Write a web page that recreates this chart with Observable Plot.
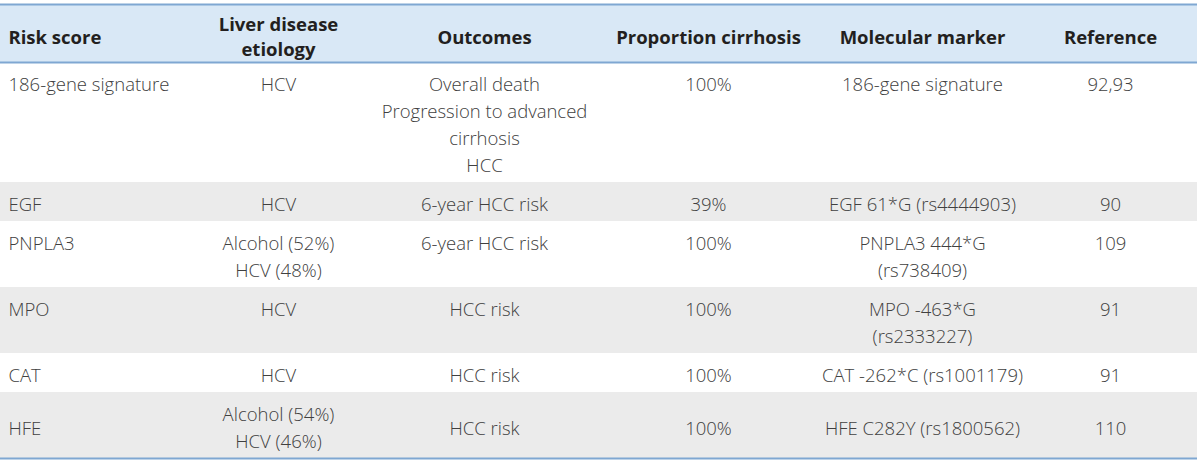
<!DOCTYPE html>
<html><head><meta charset="utf-8">
<script src="https://cdn.jsdelivr.net/npm/d3@7"></script>
<script src="https://cdn.jsdelivr.net/npm/@observablehq/plot@0.6"></script>
<style>html,body{margin:0;padding:0;background:#fff;} svg{display:block}</style>
</head><body><div id="chart"></div>
<script>
// ---- table content ----
const headers = [["Risk score"], ["Liver disease", "etiology"], ["Outcomes"], ["Proportion cirrhosis"], ["Molecular marker"], ["Reference"]];
const riskScores = ["186-gene signature", "EGF", "PNPLA3", "MPO", "CAT", "HFE"];
const etiology = [["HCV"], ["HCV"], ["Alcohol (52%)", "HCV (48%)"], ["HCV"], ["HCV"], ["Alcohol (54%)", "HCV (46%)"]];
const outcomes = [["Overall death", "Progression to advanced", "cirrhosis", "HCC"], ["6-year HCC risk"], ["6-year HCC risk"], ["HCC risk"], ["HCC risk"], ["HCC risk"]];
const proportionCirrhosis = ["100%", "39%", "100%", "100%", "100%", "100%"];
const molecularMarker = [["186-gene signature"], ["EGF 61*G (rs4444903)"], ["PNPLA3 444*G", "(rs738409)"], ["MPO -463*G", "(rs2333227)"], ["CAT -262*C (rs1001179)"], ["HFE C282Y (rs1800562)"]];
const references = ["92,93", "90", "109", "91", "91", "110"];

// ---- layout / style ----
const W = 1200, H = 462;
const L = {tableRight: 1197, headerTop: 4, headerBottom: 62, lineHeight: 27, rowPad: 6, textShift: 3.5, headerLineHeight: 25, headerShift: 4.5};
const colX = [8, 278, 484, 708, 922, 1110];
const colAnchor = ["start", "middle", "middle", "middle", "middle", "middle"];
const rowVAlign = ["top", "top", "top", "top", "top", "middle"];
const C = {header: "#d9e8f6", stripe: "#ebebeb", rule: "#7fa7d2", headText: "#231f20", bodyText: "#404040"};
const FONT = "'Open Sans', 'Noto Sans', sans-serif";

// ---- build records ----
const rows = riskScores.map((r, i) => [[r], etiology[i], outcomes[i], [proportionCirrhosis[i]], molecularMarker[i], [references[i]]]);
const rowRects = [];
const bodyLines = [];
let rowTop = L.headerBottom;
rows.forEach((cells, ri) => {
  const n = d3.max(cells, c => c.length);
  const h = 2 * L.rowPad + n * L.lineHeight;
  rowRects.push({y1: rowTop, y2: rowTop + h, fill: ri % 2 ? C.stripe : "#ffffff"});
  cells.forEach((lines, ci) => {
    lines.forEach((t, li) => {
      let y;
      if (rowVAlign[ri] === "top") y = rowTop + L.rowPad + L.lineHeight * (li + 0.5) + L.textShift;
      else y = rowTop + h / 2 + (li - (lines.length - 1) / 2) * L.lineHeight + L.textShift;
      bodyLines.push({x: colX[ci], y, text: t, anchor: colAnchor[ci]});
    });
  });
  rowTop += h;
});
const tableBottom = rowTop;
const headMid = (L.headerTop + L.headerBottom) / 2 + L.headerShift;
const headLines = [];
headers.forEach((lines, ci) => lines.forEach((t, li) => headLines.push({
  x: colX[ci], y: headMid + (li - (lines.length - 1) / 2) * L.headerLineHeight, text: t, anchor: colAnchor[ci]
})));

const textMarks = (data, opts) => ["start", "middle"].map(a => Plot.text(data.filter(d => d.anchor === a), {
  x: "x", y: "y", text: "text", textAnchor: a, lineAnchor: "middle", fontFamily: FONT, ...opts
}));

const chart = Plot.plot({
  width: W, height: H, margin: 0,
  x: {domain: [0, W], range: [0, W], axis: null},
  y: {domain: [0, H], range: [0, H], axis: null},
  marks: [
    Plot.rect([{y1: L.headerTop, y2: L.headerBottom}], {x1: 0, x2: L.tableRight, y1: "y1", y2: "y2", fill: C.header}),
    Plot.rect(rowRects, {x1: 0, x2: L.tableRight, y1: "y1", y2: "y2", fill: "fill"}),
    Plot.ruleY([L.headerTop, L.headerBottom, tableBottom], {x1: 0, x2: L.tableRight, stroke: C.rule, strokeWidth: 2}),
    ...textMarks(headLines, {fontSize: 18.5, fontWeight: "bold", fill: C.headText}),
    ...textMarks(bodyLines, {fontSize: 18.5, fontWeight: 300, fill: C.bodyText})
  ]
});
document.getElementById("chart").appendChild(chart);
</script>
</body></html>
